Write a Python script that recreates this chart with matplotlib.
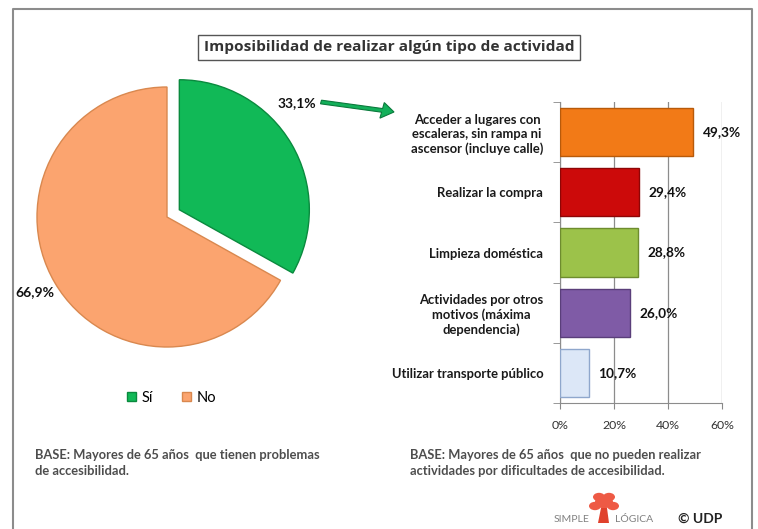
import matplotlib
matplotlib.use("Agg")
import matplotlib.pyplot as plt
from matplotlib.patches import Rectangle, FancyArrow, Circle, Polygon
from matplotlib.lines import Line2D
import numpy as np

plt.rcParams['font.family'] = ['Lato', 'DejaVu Sans']

# pie data
pie_labels = ['Sí', 'No']
pie_values = [33.1, 66.9]
pie_text = ['33,1%', '66,9%']
pie_colors = ['#11B957', '#FBA46F']
pie_edges = ['#0A8A3E', '#D9884F']

# bar data
categories = ['Acceder a lugares con\nescaleras, sin rampa ni\nascensor (incluye calle)',
              'Realizar la compra',
              'Limpieza doméstica',
              'Actividades por otros\nmotivos (máxima\ndependencia)',
              'Utilizar transporte público']
values = [49.3, 29.4, 28.8, 26.0, 10.7]
value_text = ['49,3%', '29,4%', '28,8%', '26,0%', '10,7%']
bar_colors = ['#F27A17', '#CC0A0A', '#9CC24A', '#7F5BA6', '#DCE7F7']
bar_edges = ['#B85A0A', '#8E0505', '#6E8C2E', '#5A3E7A', '#8FA7CC']
xticks = [0, 20, 40, 60]

W, H = 758, 529
fig = plt.figure(figsize=(W / 100, H / 100), dpi=100)

def fx(px):
    return px / W

def fy(py):
    return 1 - py / H

# outer frame (open at bottom)
fig.add_artist(Line2D([fx(13), fx(13), fx(752), fx(752)], [0, fy(9), fy(9), 0],
                      color='#8C8C8C', lw=1.5))

# title
fig.text(fx(389), fy(47), 'Imposibilidad de realizar algún tipo de actividad',
         ha='center', va='center', fontsize=11.1, fontweight='bold', color='#333333',
         family=['Open Sans', 'DejaVu Sans'])
fig.add_artist(Rectangle((fx(198), fy(60)), fx(580) - fx(198), fy(35) - fy(60),
                         fill=False, ec='#555555', lw=1.0))

# pie chart
cx, cy, r = 167, 217, 130
ax_p = fig.add_axes([fx(cx - 1.2 * r), fy(cy + 1.2 * r), 2.4 * r / W, 2.4 * r / H])
wedges, _ = ax_p.pie(pie_values, colors=pie_colors, startangle=90, counterclock=False,
                     explode=[0.11, 0], radius=1.0,
                     wedgeprops=dict(linewidth=1.0))
for w, ec in zip(wedges, pie_edges):
    w.set_edgecolor(ec)
ax_p.set_xlim(-1.2, 1.2)
ax_p.set_ylim(-1.2, 1.2)
ax_p.set_aspect('equal')
ax_p.axis('off')
ax_p.text(1.0, 0.875, pie_text[0], ha='center', va='center', fontsize=10,
          fontweight='bold', color='#111111')
ax_p.text(-1.02, -0.58, pie_text[1], ha='center', va='center', fontsize=10,
          fontweight='bold', color='#111111')

# arrow from pie to bars
fig.add_artist(FancyArrow(fx(321), fy(102), fx(394) - fx(321), fy(112) - fy(102),
                          width=0.007, head_width=0.03, head_length=0.016,
                          length_includes_head=True, fc='#13B05A', ec='#0B7A3C', lw=0.8))

# pie legend
handles = [Rectangle((0, 0), 1, 1, fc=c, ec=e) for c, e in zip(pie_colors, pie_edges)]
fig.legend(handles, pie_labels, loc='center', bbox_to_anchor=(fx(172), fy(398)),
           ncol=2, frameon=False, fontsize=10.5, handlelength=0.6, handleheight=0.6,
           handletextpad=0.4, columnspacing=2.0)

# bar chart
ax = fig.add_axes([fx(560), fy(403), fx(722) - fx(560), fy(102) - fy(403)])
ypos = np.arange(len(categories))
ax.barh(ypos, values, height=0.8, color=bar_colors, edgecolor=bar_edges, linewidth=1.0,
        zorder=3)
for y, v, t in zip(ypos, values, value_text):
    ax.text(v + 3.5, y, t, ha='left', va='center', fontsize=9.8, fontweight='bold',
            color='#111111')
ax.set_xlim(0, 60)
ax.set_ylim(len(categories) - 0.5, -0.5)
ax.set_xticks(xticks)
ax.set_xticklabels([f'{x}%' for x in xticks], fontsize=8.8, color='#333333')
ax.set_yticks(ypos)
ax.set_yticklabels(categories, fontsize=9.4, fontweight='bold', color='#1A1A1A',
                   multialignment='center', linespacing=1.25)
ax.set_yticks(np.arange(-0.5, len(categories)), minor=True)
ax.tick_params(axis='y', which='major', length=0, pad=12)
ax.tick_params(axis='y', which='minor', length=5, color='#888888')
ax.tick_params(axis='x', length=4, color='#888888', pad=8)
ax.grid(axis='x', color='#8C8C8C', lw=0.9, zorder=0)
for s in ['top', 'right']:
    ax.spines[s].set_visible(False)
for s in ['left', 'bottom']:
    ax.spines[s].set_color('#8C8C8C')

# base notes
fig.text(fx(35), fy(463), 'BASE: Mayores de 65 años  que tienen problemas\nde accesibilidad.',
         ha='left', va='center', fontsize=9.3, fontweight='bold', color='#4D4D4D',
         linespacing=1.35)
fig.text(fx(410), fy(463), 'BASE: Mayores de 65 años  que no pueden realizar\nactividades por dificultades de accesibilidad.',
         ha='left', va='center', fontsize=9.3, fontweight='bold', color='#4D4D4D',
         linespacing=1.35)

# logo
fig.text(fx(589), fy(519), 'SIMPLE', ha='right', va='center', fontsize=7.5, color='#808080')
fig.text(fx(615), fy(519), 'LÓGICA', ha='left', va='center', fontsize=7.5, color='#808080')
for (tx, ty, rr) in [(604, 502, 9), (595, 506, 6), (613, 506, 6), (599, 497, 6), (609, 497, 6)]:
    fig.add_artist(Circle((fx(tx), fy(ty)), rr / W, transform=fig.transFigure,
                          fc='#EE5A45', ec='none'))
fig.add_artist(Polygon([(fx(601), fy(508)), (fx(607), fy(508)), (fx(609), fy(523)),
                        (fx(598), fy(523))], fc='#E0412C', ec='none'))
fig.text(fx(678), fy(519), '© UDP', ha='left', va='center', fontsize=10,
         fontweight='bold', color='#222222')

fig.savefig('out.png', dpi=100)
